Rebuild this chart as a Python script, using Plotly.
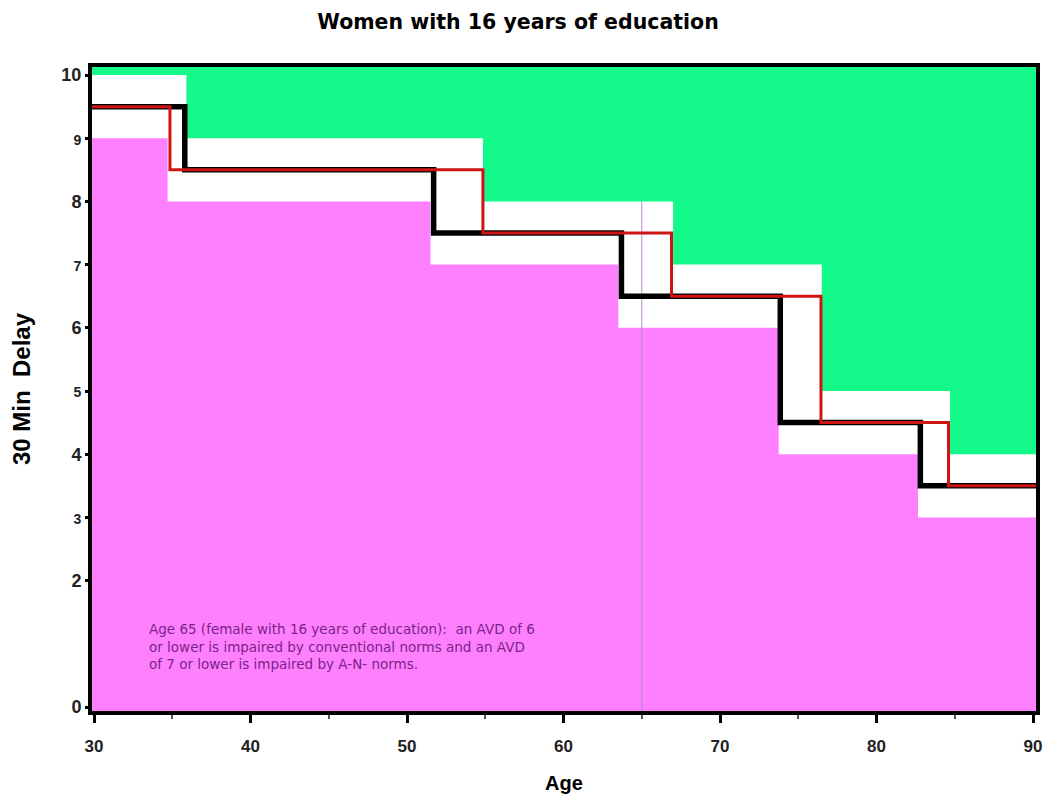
import plotly.graph_objects as go

# ---- data ----
# lower (pink) region: level held until each break age
pink_breaks = [34.7, 51.5, 63.5, 73.75, 82.65]
pink_levels = [9, 8, 7, 6, 4, 3]
# upper (green) region: bottom boundary
green_breaks = [35.9, 54.85, 67.0, 76.5, 84.7]
green_levels = [10, 9, 8, 7, 5, 4]
# conventional norms (black step line)
black_breaks = [35.8, 51.7, 63.7, 73.85, 82.8]
black_levels = [9.5, 8.5, 7.5, 6.5, 4.5, 3.5]
# A-N norms (red step line)
red_breaks = [34.85, 54.85, 66.9, 76.45, 84.6]
red_levels = [9.5, 8.5, 7.5, 6.5, 4.5, 3.5]
marker_age = 65

x_ticks = [30, 40, 50, 60, 70, 80, 90]
y_ticks = [0, 2, 3, 4, 5, 6, 7, 8, 9, 10]

X_MIN, X_MAX = 29.87, 90.19
Y_MIN, Y_MAX = -0.063, 10.127


def step_xy(breaks, levels, x0, x1):
    xs = [x0] + list(breaks) + [x1]
    ys = list(levels) + [levels[-1]]
    return xs, ys


def region(breaks, levels, cap):
    sx, sy = step_xy(breaks, levels, X_MIN - 1, X_MAX + 1)
    xs, ys = [], []
    for i in range(len(sx) - 1):
        xs += [sx[i], sx[i + 1]]
        ys += [sy[i], sy[i]]
    xs += [X_MAX + 1, X_MIN - 1]
    ys += [cap, cap]
    return xs, ys


fig = go.Figure()

pxs, pys = region(pink_breaks, pink_levels, -5)
fig.add_trace(go.Scatter(x=pxs, y=pys, fill="toself", fillcolor="#FF80FF",
                         line=dict(width=0), mode="lines", hoverinfo="skip"))

fig.add_trace(go.Scatter(x=[marker_age, marker_age], y=[-5, 15], mode="lines",
                         line=dict(color="#B78AC8", width=1), hoverinfo="skip"))

gxs, gys = region(green_breaks, green_levels, 15)
fig.add_trace(go.Scatter(x=gxs, y=gys, fill="toself", fillcolor="#14FA8A",
                         line=dict(width=0), mode="lines", hoverinfo="skip"))

bx, by = step_xy(black_breaks, black_levels, X_MIN, X_MAX)
fig.add_trace(go.Scatter(x=bx, y=by, mode="lines", line_shape="hv",
                         line=dict(color="black", width=5.5)))
rx, ry = step_xy(red_breaks, red_levels, X_MIN, X_MAX)
fig.add_trace(go.Scatter(x=rx, y=ry, mode="lines", line_shape="hv",
                         line=dict(color="#D01414", width=3)))

fig.add_annotation(
    x=33.4, y=1.4, xref="x", yref="y", xanchor="left", yanchor="top",
    align="left", showarrow=False,
    text=("Age 65 (female with 16 years of education):  an AVD of 6<br>"
          "or lower is impaired by conventional norms and an AVD<br>"
          "of 7 or lower is impaired by A-N- norms."),
    font=dict(family="DejaVu Sans", size=13.5, color="#7A2388"),
)

y_text = []
for v in y_ticks:
    if v % 2 == 1:
        y_text.append('<span style="font-size:14px">%d</span>' % v)
    else:
        y_text.append(str(v))

# page has an 8px body margin, so the figure is sized to fit inside the window
fig.update_layout(
    width=1036, height=786,
    margin=dict(l=84, r=8, t=59, b=83),
    paper_bgcolor="white", plot_bgcolor="white",
    showlegend=False,
    title=dict(text="<b>Women with 16 years of education</b>", x=0.4923, xanchor="center",
               y=0.9822, yref="container", yanchor="middle",
               font=dict(family="DejaVu Sans", size=20.5, color="black")),
    xaxis=dict(range=[X_MIN, X_MAX], tickvals=x_ticks, showgrid=False, zeroline=False,
               automargin=False, ticklabeloverflow="allow",
               showline=True, linecolor="black", linewidth=4, mirror=True,
               ticks="outside", ticklen=8, tickwidth=3, tickcolor="black",
               ticklabelstandoff=9,
               minor=dict(dtick=5, tick0=0, ticks="outside", ticklen=4, tickwidth=1.5,
                          tickcolor="#555"),
               tickfont=dict(family="Liberation Sans Narrow, Liberation Sans, Arial",
                             size=17, color="#222", weight="bold"),
               title=dict(text="<b>Age</b>", standoff=27,
                          font=dict(family="Liberation Sans, Arial", size=20, color="black"))),
    yaxis=dict(range=[Y_MIN, Y_MAX], tickvals=y_ticks, ticktext=y_text,
               showgrid=False, zeroline=False, automargin=False,
               showline=True, linecolor="black", linewidth=4, mirror=True,
               ticks="outside", ticklen=3, tickwidth=2.5, tickcolor="black",
               tickfont=dict(family="Liberation Sans, Arial", size=18, color="#222",
                             weight="bold"),
               title=dict(text="<b>30 Min  Delay</b>", standoff=28,
                          font=dict(family="Liberation Sans, Arial", size=24, color="black"))),
)

fig.write_html("out.html")
